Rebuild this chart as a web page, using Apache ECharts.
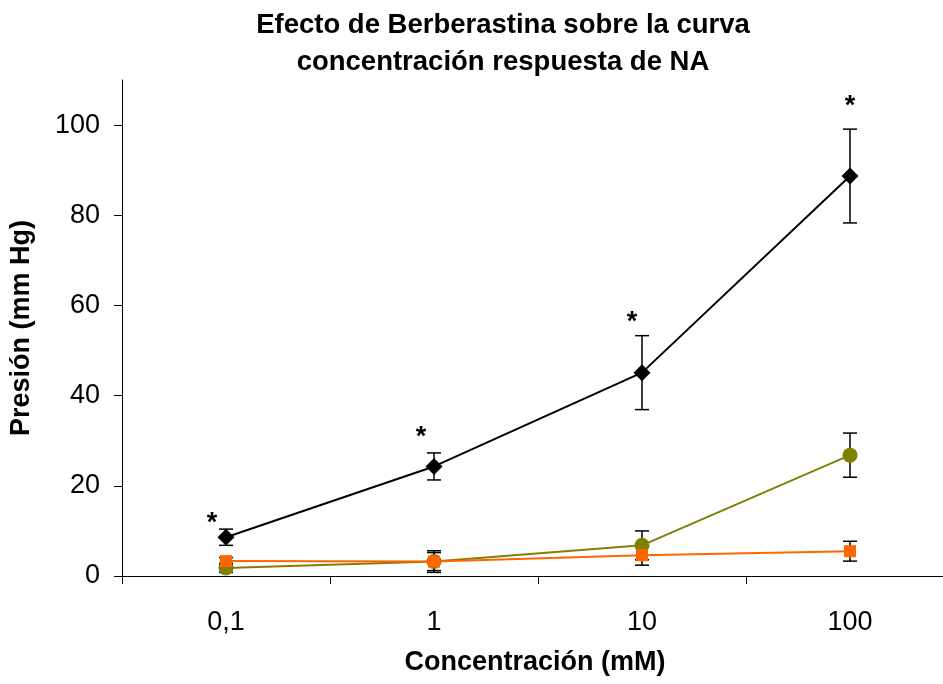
<!DOCTYPE html>
<html>
<head>
<meta charset="utf-8">
<script src="https://cdn.jsdelivr.net/npm/echarts@6/dist/echarts.min.js"></script>
<style>html,body{margin:0;padding:0;background:#fff}#c{width:943px;height:684px}</style>
</head>
<body>
<div id="c"></div>
<script>
var categories = ['0,1', '1', '10', '100'];
var yTicks = [0, 20, 40, 60, 80, 100];
var naValues = [8.6, 24.3, 45.1, 88.7];
var naErrors = [1.8, 3.0, 8.2, 10.4];
var oliveValues = [1.8, 3.2, 6.8, 26.8];
var oliveErrors = [1.0, 2.4, 3.2, 4.9];
var orangeValues = [3.3, 3.2, 4.6, 5.5];
var orangeErrors = [0.8, 2.0, 2.2, 2.2];
var starValues = [11.6, 30.6, 56.3, 104.1];

function errData(vals, errs) {
  return vals.map(function (v, i) { return [i, v - errs[i], v + errs[i]]; });
}
var starOffsets = [-14, -13, -10, 0];

function errRender(params, api) {
  var i = api.value(0);
  var lo = api.coord([i, api.value(1)]);
  var hi = api.coord([i, api.value(2)]);
  var x = lo[0], w = 7;
  var st = { stroke: '#000', lineWidth: 1.5 };
  return {
    type: 'group',
    children: [
      { type: 'line', shape: { x1: x, y1: lo[1], x2: x, y2: hi[1] }, style: st },
      { type: 'line', shape: { x1: x - w, y1: lo[1], x2: x + w, y2: lo[1] }, style: st },
      { type: 'line', shape: { x1: x - w, y1: hi[1], x2: x + w, y2: hi[1] }, style: st }
    ]
  };
}

function starRender(params, api) {
  var i = api.value(0);
  var p = api.coord([i, api.value(1)]);
  return {
    type: 'text',
    x: p[0] + starOffsets[i], y: p[1],
    style: { text: '*', fill: '#000', font: 'bold 27px "Liberation Sans", Arial, sans-serif', align: 'center', verticalAlign: 'middle' }
  };
}

var chart = echarts.init(document.getElementById('c'));
var font = '"Liberation Sans", Arial, sans-serif';
chart.setOption({
  animation: false,
  backgroundColor: '#fff',
  title: {
    text: 'Efecto de Berberastina sobre la curva\nconcentración respuesta de NA',
    left: 498, top: 2, textAlign: 'center',
    textStyle: { fontFamily: font, fontWeight: 'bold', fontSize: 27.5, lineHeight: 37, color: '#000' }
  },
  grid: { left: 122, width: 832, top: 80, bottom: 108, containLabel: false, outerBoundsMode: 'none' },
  xAxis: {
    type: 'category', data: categories, boundaryGap: true,
    name: 'Concentración (mM)', nameLocation: 'middle', nameGap: 73,
    nameTextStyle: { fontFamily: font, fontWeight: 'bold', fontSize: 27, color: '#000', padding: [0, 6, 0, 0] },
    axisLine: { lineStyle: { color: '#000', width: 1 } },
    axisTick: { show: true, length: 8, inside: false, lineStyle: { color: '#000' } },
    axisLabel: { fontFamily: font, fontSize: 27, color: '#000', margin: 33 },
    splitLine: { show: false }
  },
  yAxis: {
    type: 'value', min: 0, max: 110,
    name: 'Presión (mm Hg)', nameLocation: 'middle', nameGap: 87, nameRotate: 90,
    nameTextStyle: { fontFamily: font, fontWeight: 'bold', fontSize: 27, color: '#000' },
    axisLine: { show: true, lineStyle: { color: '#000', width: 1 } },
    axisTick: { show: true, length: 8, inside: false, customValues: yTicks, lineStyle: { color: '#000' } },
    axisLabel: { fontFamily: font, fontSize: 27, color: '#000', margin: 22, customValues: yTicks },
    splitLine: { show: false }
  },
  series: [
    { type: 'custom', renderItem: errRender, data: errData(naValues, naErrors), encode: { x: 0, y: [1, 2] }, z: 1 },
    { type: 'custom', renderItem: errRender, data: errData(oliveValues, oliveErrors), encode: { x: 0, y: [1, 2] }, z: 1 },
    { type: 'custom', renderItem: errRender, data: errData(orangeValues, orangeErrors), encode: { x: 0, y: [1, 2] }, z: 1 },
    {
      type: 'line', data: naValues, symbol: 'diamond', symbolSize: [17, 17], showSymbol: true,
      lineStyle: { color: '#000', width: 2 }, itemStyle: { color: '#000' }, z: 3
    },
    {
      type: 'line', data: oliveValues, symbol: 'circle', symbolSize: 15,
      lineStyle: { color: '#808000', width: 2 }, itemStyle: { color: '#808000' }, z: 4
    },
    {
      type: 'line', data: orangeValues, symbol: 'rect', symbolSize: 12,
      lineStyle: { color: '#FF6600', width: 2 }, itemStyle: { color: '#FF6600' }, z: 5
    },
    { type: 'custom', renderItem: starRender, data: starValues.map(function (v, i) { return [i, v]; }), encode: { x: 0, y: 1 }, z: 6 }
  ]
});
</script>
</body>
</html>
